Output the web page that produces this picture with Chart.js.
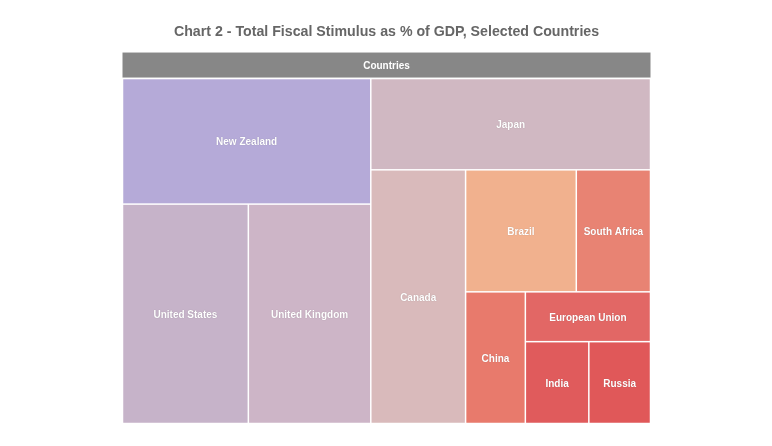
<!DOCTYPE html>
<html><head><meta charset="utf-8">
<script src="https://cdn.jsdelivr.net/npm/chart.js@4/dist/chart.umd.min.js"></script>
<style>html,body{margin:0;padding:0;background:#fff}#wrap{width:772px;height:446px;position:relative}</style>
</head><body><div id="wrap"><canvas id="c" width="772" height="446"></canvas></div>
<script>
const titleText = 'Chart 2 - Total Fiscal Stimulus as % of GDP, Selected Countries';
const rootLabel = 'Countries';
const countries = ['New Zealand','United States','United Kingdom','Japan','Canada','Brazil','South Africa','China','European Union','India','Russia'];
const stimulus = [21.0, 18.6, 18.1, 17.2, 16.2, 9.1, 6.1, 5.3, 4.2, 3.5, 3.4];
const cellColors = ['#b5aad8','#c6b3c9','#cdb5c7','#d0b8c2','#d9babb','#f1b18e','#e88373','#e87a6c','#e26765','#e05b5c','#e05859'];

const HEADER_PX = 25;

// binary split: head = longest prefix whose sum <= half, split along the longer pixel side
function layout(items, r, xs, ys, out) {
  if (items.length === 1) { out.push(Object.assign({}, items[0], r)); return; }
  const total = items.reduce((s, d) => s + d.v, 0);
  let acc = items[0].v, k = 1;
  while (k < items.length - 1 && acc + items[k].v <= total / 2) { acc += items[k].v; k++; }
  const f = acc / total;
  const pw = Math.abs(xs.getPixelForValue(r.x1) - xs.getPixelForValue(r.x0));
  const ph = Math.abs(ys.getPixelForValue(r.y1) - ys.getPixelForValue(r.y0));
  let a, b;
  if (pw >= ph) {
    const xm = r.x0 + (r.x1 - r.x0) * f;
    a = {x0: r.x0, x1: xm, y0: r.y0, y1: r.y1};
    b = {x0: xm, x1: r.x1, y0: r.y0, y1: r.y1};
  } else {
    const ym = r.y0 + (r.y1 - r.y0) * f;
    a = {x0: r.x0, x1: r.x1, y0: r.y0, y1: ym};
    b = {x0: r.x0, x1: r.x1, y0: ym, y1: r.y1};
  }
  layout(items.slice(0, k), a, xs, ys, out);
  layout(items.slice(k), b, xs, ys, out);
}

const treemapPlugin = {
  id: 'treemap',
  afterDatasetsDraw(chart) {
    const ctx = chart.ctx, xs = chart.scales.x, ys = chart.scales.y, ca = chart.chartArea;
    const items = countries.map((n, i) => ({name: n, v: stimulus[i], color: cellColors[i]}));
    items.sort((p, q) => q.v - p.v);
    ctx.save();
    // header (root node)
    ctx.fillStyle = '#878787';
    ctx.fillRect(ca.left, ca.top, ca.right - ca.left, HEADER_PX);
    ctx.fillStyle = '#ffffff';
    ctx.font = 'bold 10px "Liberation Sans", Arial, sans-serif';
    ctx.textAlign = 'center'; ctx.textBaseline = 'middle';
    ctx.fillText(rootLabel, (ca.left + ca.right) / 2, ca.top + HEADER_PX / 2 + 1.5);
    const yTop = ys.getValueForPixel(ca.top + HEADER_PX + 1);
    const rects = [];
    layout(items, {x0: xs.min, x1: xs.max, y0: yTop, y1: ys.min}, xs, ys, rects);
    rects.forEach(c => {
      const px0 = xs.getPixelForValue(c.x0), px1 = xs.getPixelForValue(c.x1);
      const py0 = ys.getPixelForValue(c.y0), py1 = ys.getPixelForValue(c.y1);
      const l = Math.min(px0, px1), t = Math.min(py0, py1), w = Math.abs(px1 - px0), h = Math.abs(py1 - py0);
      ctx.fillStyle = c.color;
      ctx.fillRect(l + 0.75, t + 0.75, w - 1.5, h - 1.5);
      ctx.fillStyle = '#ffffff';
      ctx.shadowColor = 'rgba(0,0,0,0.25)'; ctx.shadowBlur = 1;
      ctx.fillText(c.name, l + w / 2, t + h / 2 + 1.2);
      ctx.shadowColor = 'transparent'; ctx.shadowBlur = 0;
    });
    ctx.restore();
  }
};

new Chart(document.getElementById('c'), {
  type: 'scatter',
  data: {datasets: [{data: []}]},
  options: {
    responsive: false, animation: false,
    layout: {padding: {left: 122.5, right: 121.5, top: 0, bottom: 22.5}},
    scales: {
      x: {type: 'linear', min: 0, max: 100, display: false},
      y: {type: 'linear', min: 0, max: 100, display: false}
    },
    plugins: {
      legend: {display: false}, tooltip: {enabled: false},
      title: {display: true, text: titleText, color: '#666666',
        font: {family: '"Liberation Sans", Arial, sans-serif', size: 14.2, weight: 'bold'},
        padding: {top: 23.5, bottom: 12}}
    }
  },
  plugins: [treemapPlugin]
});
</script></body></html>
